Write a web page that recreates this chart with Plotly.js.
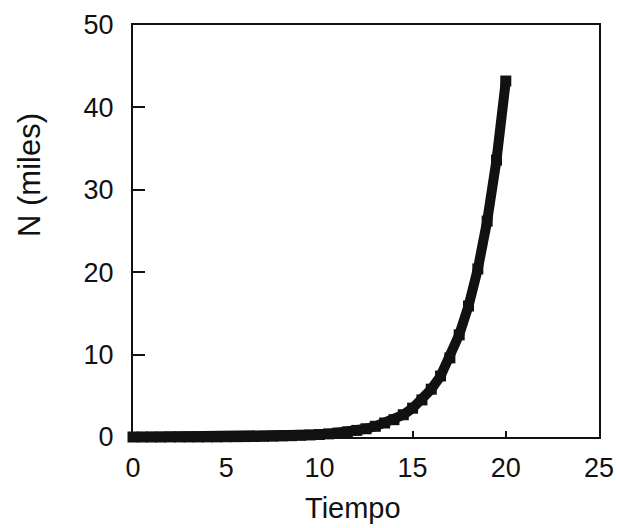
<!DOCTYPE html>
<html>
<head>
<meta charset="utf-8">
<script src="https://cdn.plot.ly/plotly-3.0.1.min.js"></script>
<style>html,body{margin:0;padding:0;background:#fff;}#chart{width:617px;height:528px;}</style>
</head>
<body>
<div id="chart"></div>
<script>
const tiempo = [0,0.5,1,1.5,2,2.5,3,3.5,4,4.5,5,5.5,6,6.5,7,7.5,8,8.5,9,9.5,10,10.5,11,11.5,12,12.5,13,13.5,14,14.5,15,15.5,16,16.5,17,17.5,18,18.5,19,19.5,20];
const nMiles = [0.00,0.00,0.00,0.00,0.01,0.01,0.01,0.01,0.02,0.02,0.03,0.04,0.05,0.06,0.08,0.10,0.13,0.16,0.20,0.25,0.30,0.38,0.48,0.62,0.80,1.0,1.3,1.7,2.1,2.7,3.5,4.5,5.8,7.4,9.6,12.4,15.9,20.4,26.2,33.6,43.2];
const xTicks = [0,5,10,15,20,25];
const yTicks = [0,10,20,30,40,50];
const xLabel = 'Tiempo';
const yLabel = 'N (miles)';

const FONT = '"Liberation Sans", Arial, sans-serif';
const INK = '#111111';

const trace = {
  x: tiempo, y: nMiles, type: 'scatter', mode: 'lines+markers',
  line: {color: INK, width: 10},
  marker: {symbol: 'square', size: 11, color: INK},
  cliponaxis: false, hoverinfo: 'skip', showlegend: false
};

const layout = {
  width: 617, height: 528,
  margin: {l: 133, r: 18, t: 25, b: 91, pad: 0},
  paper_bgcolor: '#fff', plot_bgcolor: '#fff',
  font: {family: FONT, size: 27, color: INK},
  xaxis: {
    range: [0, 25], tickvals: xTicks, ticktext: xTicks.map(String),
    ticks: 'inside', ticklen: 6, tickwidth: 2, tickcolor: INK,
    showline: true, linewidth: 2, linecolor: INK, mirror: true,
    showgrid: false, zeroline: false, ticklabelstandoff: 6,
    tickfont: {family: FONT, size: 27, color: INK}
  },
  yaxis: {
    range: [0, 50], tickvals: yTicks, ticktext: yTicks.map(String),
    ticks: 'inside', ticklen: 12, tickwidth: 2, tickcolor: INK,
    showline: true, linewidth: 2, linecolor: INK, mirror: true,
    showgrid: false, zeroline: false, ticklabelstandoff: 12,
    tickfont: {family: FONT, size: 27, color: INK}
  },
  annotations: [
    {text: xLabel, xref: 'paper', yref: 'paper', x: 0.472, y: -0.172, xanchor: 'center', yanchor: 'middle', showarrow: false, font: {family: FONT, size: 29, color: INK}},
    {text: yLabel, xref: 'paper', yref: 'paper', x: -0.221, y: 0.636, xanchor: 'center', yanchor: 'middle', textangle: -90, showarrow: false, font: {family: FONT, size: 31, color: INK}}
  ]
};

Plotly.newPlot('chart', [trace], layout, {staticPlot: true, displayModeBar: false});
</script>
</body>
</html>
